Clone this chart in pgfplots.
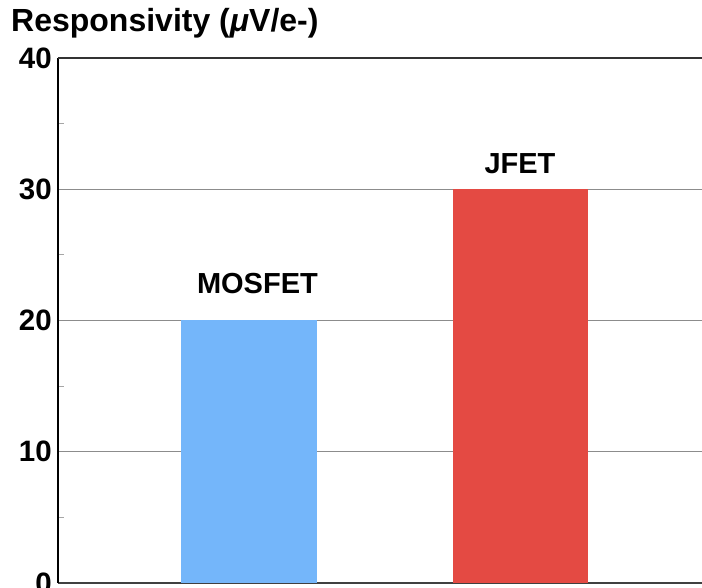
\documentclass[border=0pt]{standalone}
\usepackage{fontspec}
\setmainfont{Liberation Sans}
\usepackage{pgfplots}
\pgfplotsset{compat=1.18}
\definecolor{barblue}{RGB}{116,182,250}
\definecolor{barred}{RGB}{228,74,67}
\begin{document}
\begin{tikzpicture}[x=1pt,y=1pt]
\begin{axis}[
  at={(58pt,5pt)}, anchor=south west,
  scale only axis, width=644pt, height=525pt,
  xmin=0.2965, xmax=2.6685, ymin=0, ymax=40,
  axis x line*=bottom, axis y line*=left,
  xtick=\empty,
  ytick={0,10,20,30,40},
  minor ytick={5,15,25,35},
  ymajorgrids,
  grid style={black!45, line width=0.8pt},
  major tick length=0pt,
  minor tick length=6pt,
  tick align=inside,
  minor tick style={black!35, line width=0.8pt},
  y axis line style={black, line width=1.3pt},
  x axis line style={black!75, line width=1.8pt},
  /pgf/number format/assume math mode=true,
  yticklabel style={font=\fontsize{29.5}{34}\selectfont\bfseries, inner sep=0pt, xshift=-6pt},
  clip=false,
]
\addplot[ybar, bar width=0.5, bar shift=0pt, fill=barblue, draw=none] coordinates {(1,20)};
\addplot[ybar, bar width=0.5, bar shift=0pt, fill=barred, draw=none] coordinates {(2,30)};
\node[anchor=base, font=\fontsize{29}{34}\selectfont\bfseries, inner sep=0pt] at (axis cs:1.031,22.06) {MOSFET};
\node[anchor=base, font=\fontsize{29}{34}\selectfont\bfseries, inner sep=0pt] at (axis cs:1.998,31.22) {JFET};
\draw[black!80, line width=1.8pt] (rel axis cs:0,1) -- (rel axis cs:1,1);
\end{axis}
\node[anchor=base west, font=\fontsize{32}{37}\selectfont\bfseries, inner sep=0pt] at (11,556) {Responsivity (\textit{μ}V/e-)};
\pgfresetboundingbox
\useasboundingbox (0,0) rectangle (702,588);
\end{tikzpicture}
\end{document}
